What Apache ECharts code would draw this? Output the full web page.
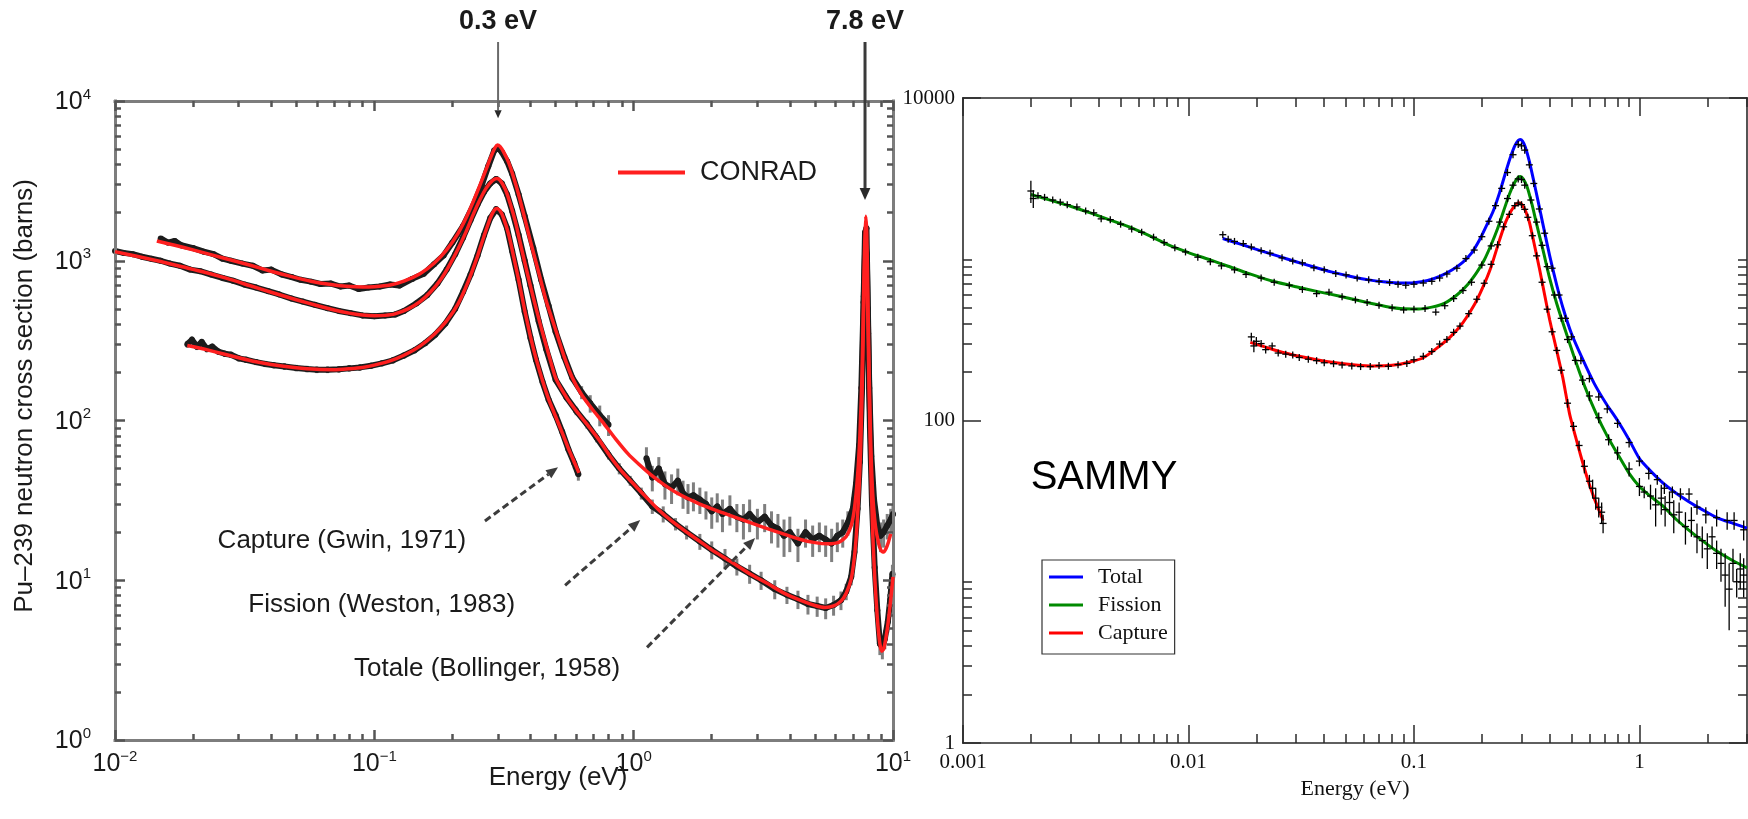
<!DOCTYPE html>
<html>
<head>
<meta charset="utf-8">
<title>Pu-239 neutron cross sections: CONRAD and SAMMY fits</title>
<script src="https://cdn.jsdelivr.net/npm/echarts@6/dist/echarts.min.js"></script>
<style>
  html, body { margin: 0; padding: 0; background: #ffffff; }
  #chart { width: 1748px; height: 819px; }
</style>
</head>
<body>
<div id="chart"></div>
<script>
// ---------------- CONRAD panel (left) ----------------
// Fitted curves: [energy (eV), cross section (barns)]
const conradTotalFit = [
  [0.0145,1330],[0.017,1250],[0.02,1170],[0.024,1080],[0.028,1010],[0.033,940],[0.04,860],[0.048,795],
  [0.057,745],[0.067,712],[0.078,692],[0.09,684],[0.1,688],[0.115,705],[0.13,745],[0.15,830],[0.17,965],
  [0.19,1170],[0.21,1480],[0.225,1830],[0.24,2320],[0.255,2950],[0.27,3750],[0.282,4500],[0.292,5100],
  [0.298,5300],[0.305,5200],[0.315,4800],[0.33,4100],[0.345,3300],[0.36,2600],[0.38,1850],[0.4,1320],
  [0.43,850],[0.46,560],[0.5,370],[0.54,250],[0.58,185],[0.63,145],[0.7,115],[0.77,95],[0.85,77],
  [0.95,62],[1.05,53],[1.16,46],[1.3,40],[1.5,34.5],[1.8,30],[2.2,26.5],[2.8,23],[3.5,20.3],[4.4,18],
  [5.0,17.2],[5.6,16.9],[6.2,17.3],[6.6,18.8],[6.9,22],[7.1,28],[7.3,45],[7.45,80],[7.6,200],[7.7,600],
  [7.78,1300],[7.85,1900],[7.92,1500],[8.0,600],[8.1,180],[8.2,75],[8.35,35],[8.55,22],[8.8,17],
  [9.0,15.3],[9.2,15],[9.4,15.8],[9.6,17.3],[9.8,19.5]
];
const conradFissionFit = [
  [0.01,1140],[0.012,1070],[0.015,990],[0.018,920],[0.022,850],[0.027,775],[0.033,700],[0.04,635],
  [0.05,570],[0.06,525],[0.07,492],[0.08,470],[0.09,457],[0.1,452],[0.11,455],[0.12,465],[0.135,500],
  [0.15,555],[0.165,640],[0.18,760],[0.195,940],[0.21,1180],[0.225,1500],[0.24,1930],[0.255,2400],
  [0.27,2850],[0.285,3170],[0.296,3270],[0.305,3200],[0.32,2800],[0.335,2250],[0.35,1750],[0.37,1180],
  [0.39,820],[0.41,590],[0.44,380],[0.47,260],[0.5,185],[0.55,140],[0.6,115],[0.66,95],[0.73,77],
  [0.81,60],[0.9,48],[1.0,40],[1.1,34],[1.25,27.5],[1.4,23.5],[1.6,20],[1.8,17.5],[2.0,15.5],[2.35,13.2],
  [2.8,11],[3.26,9.6],[3.8,8.3],[4.38,7.5],[5.0,6.95],[5.47,6.75],[5.9,6.9],[6.3,7.4],[6.6,8.3],
  [6.9,10.2],[7.1,14],[7.25,21],[7.4,38],[7.5,65],[7.6,150],[7.7,450],[7.78,1000],[7.85,1450],
  [7.92,1100],[8.0,420],[8.1,140],[8.2,55],[8.35,20],[8.5,10.5],[8.7,5.8],[8.9,4.0],[9.05,3.6],
  [9.2,3.7],[9.4,4.4],[9.6,5.6],[9.8,7.6],[10.0,10.5]
];
const conradCaptureFit = [
  [0.019,295],[0.022,280],[0.026,262],[0.03,247],[0.035,233],[0.04,224],[0.05,214],[0.06,209],
  [0.07,208],[0.08,211],[0.09,215],[0.1,222],[0.115,236],[0.13,256],[0.15,292],[0.17,345],[0.19,420],
  [0.21,535],[0.23,740],[0.25,1070],[0.265,1430],[0.28,1850],[0.29,2070],[0.297,2120],[0.305,2060],
  [0.315,1850],[0.33,1450],[0.345,1050],[0.36,760],[0.38,490],[0.4,335],[0.42,245],[0.445,178],
  [0.47,136],[0.5,106],[0.53,84],[0.56,67],[0.59,55],[0.615,47]
];

// Measured points: [energy (eV), cross section (barns), uncertainty (barns)]
const totalBollinger = [
  [0.015,1380,40],[0.016,1300,35],[0.017,1330,35],[0.018,1250,30],[0.02,1200,30],[0.022,1140,28],
  [0.024,1100,28],[0.026,1030,25],[0.028,1000,25],[0.031,960,24],[0.034,930,24],[0.037,870,22],
  [0.04,880,22],[0.044,820,20],[0.048,790,20],[0.052,760,20],[0.057,740,18],[0.062,715,18],
  [0.068,720,18],[0.074,690,18],[0.08,700,18],[0.087,665,17],[0.095,680,17],[0.105,690,17],
  [0.115,710,18],[0.125,700,18],[0.14,770,19],[0.155,830,20],[0.17,950,22],[0.185,1080,25],
  [0.2,1300,30],[0.22,1650,35],[0.24,2200,45],[0.26,3000,60],[0.275,3900,70],[0.29,4900,90],
  [0.3,5100,90],[0.31,4800,85],[0.325,4200,80],[0.34,3500,70],[0.36,2600,55],[0.38,1900,45],
  [0.41,1200,35],[0.44,760,25],[0.47,520,20],[0.5,360,15],[0.54,250,12],[0.58,185,10],[0.63,150,14],
  [0.68,128,16],[0.74,108,16],[0.8,94,14],
  [1.12,58,10],[1.18,44,8],[1.25,50,9],[1.32,40,8],[1.4,38,8],[1.48,42,8],[1.55,35,7],[1.62,33,7],
  [1.7,34,7],[1.8,32,6],[1.9,30,6],[2.0,27,6],[2.1,29,6],[2.2,26,6],[2.35,28,6],[2.5,25,5],
  [2.65,24,6],[2.8,26,6],[3.0,23,5],[3.2,25,5],[3.4,22,5],[3.6,21,5],[3.8,19,5],[4.0,20,5],
  [4.3,17,4],[4.6,20,4],[4.9,18,4],[5.2,19,4],[5.5,18,4],[5.8,17,4],[6.1,19,4],[6.4,20,4],
  [6.7,23,4],[7.0,28,5],[7.2,40,6],[7.4,70,8],[7.55,160,15],[7.7,550,40],[7.8,1500,80],
  [7.9,1600,80],[8.0,500,40],[8.1,160,15],[8.25,60,6],[8.45,32,5],[8.7,22,4],[8.95,19,4],
  [9.2,20,4],[9.5,22,4],[9.8,24,4],[10.0,26,4]
];
const fissionWeston = [
  [0.01,1150,25],[0.0108,1120,25],[0.0117,1100,25],[0.0127,1060,24],[0.0138,1030,23],[0.015,1000,22],
  [0.0163,960,22],[0.0178,930,21],[0.0195,880,20],[0.0213,860,20],[0.0235,820,19],[0.026,780,18],
  [0.0285,750,18],[0.0315,710,17],[0.035,680,16],[0.039,645,15],[0.043,615,15],[0.048,580,14],
  [0.053,555,14],[0.059,530,13],[0.066,505,13],[0.073,485,12],[0.081,470,12],[0.09,455,12],
  [0.1,450,12],[0.11,455,12],[0.12,460,12],[0.13,485,12],[0.145,540,13],[0.16,610,15],[0.175,720,17],
  [0.19,880,20],[0.205,1100,25],[0.22,1400,30],[0.235,1800,35],[0.25,2250,45],[0.265,2700,50],
  [0.28,3050,55],[0.295,3250,60],[0.31,3050,55],[0.325,2600,50],[0.34,2050,45],[0.36,1450,35],
  [0.38,1000,28],[0.4,700,22],[0.43,420,16],[0.46,280,12],[0.5,180,9],[0.55,140,8],[0.6,115,7],
  [0.66,95,6],[0.72,78,5],[0.8,61,4],[0.88,50,4],[0.97,42,3],[1.07,35,3],[1.18,29,3],[1.3,26,3],
  [1.45,22.5,2],[1.6,20,2],[1.8,17.5,2],[2.0,15.5,2],[2.25,13.7,2],[2.5,12.2,1.5],[2.8,11,1.5],
  [3.1,10,1.3],[3.5,8.8,1.2],[3.9,8.1,1],[4.3,7.6,1],[4.7,7.1,1],[5.1,6.9,1],[5.5,6.7,1],[5.9,7.0,1],
  [6.3,7.5,1],[6.6,8.5,1],[6.9,10.5,1.2],[7.1,15,2],[7.3,28,3],[7.45,55,5],[7.6,160,15],[7.72,600,40],
  [7.82,1300,70],[7.92,1100,60],[8.02,350,25],[8.15,90,8],[8.3,30,3],[8.5,12,1.5],[8.7,6.5,1],
  [8.9,4.0,0.6],[9.1,3.8,0.6],[9.3,4.3,0.6],[9.55,5.5,0.8],[9.75,7.5,1],[9.95,11,1.5]
];
const captureGwin = [
  [0.019,300,15],[0.0198,320,15],[0.0207,290,14],[0.0216,310,14],[0.0226,280,13],[0.0237,290,13],
  [0.025,270,12],[0.0265,262,12],[0.028,258,12],[0.03,245,11],[0.032,240,11],[0.035,232,10],
  [0.038,226,10],[0.041,222,10],[0.045,218,10],[0.05,213,10],[0.055,210,10],[0.06,208,10],
  [0.066,208,10],[0.073,209,10],[0.08,212,10],[0.088,215,10],[0.097,220,10],[0.107,228,10],
  [0.118,238,11],[0.13,255,11],[0.143,275,12],[0.157,305,13],[0.172,345,14],[0.188,405,16],
  [0.205,500,18],[0.22,640,22],[0.235,820,26],[0.25,1080,30],[0.265,1450,38],[0.28,1850,45],
  [0.295,2100,50],[0.31,1950,48],[0.325,1600,40],[0.34,1150,32],[0.36,760,24],[0.38,480,18],
  [0.4,330,14],[0.42,240,11],[0.445,175,9],[0.47,135,7],[0.5,108,6],[0.53,85,5],[0.56,66,4],
  [0.59,54,4],[0.612,46,4]
];

// ---------------- SAMMY panel (right) ----------------
const sammyTotalFit = [
  [0.0142,1345],[0.017,1240],[0.0205,1140],[0.025,1045],[0.03,965],[0.036,895],[0.043,835],[0.052,785],
  [0.063,745],[0.075,722],[0.088,712],[0.1,716],[0.115,738],[0.13,782],[0.148,860],[0.165,960],
  [0.18,1090],[0.195,1310],[0.21,1620],[0.225,2000],[0.24,2600],[0.255,3450],[0.268,4300],[0.28,5050],
  [0.29,5450],[0.296,5530],[0.303,5400],[0.312,4950],[0.325,4050],[0.34,3050],[0.355,2300],[0.375,1600],
  [0.4,1050],[0.43,690],[0.46,490],[0.5,345],[0.56,240],[0.63,170],[0.71,128],[0.8,100],[0.9,76],
  [1.0,58],[1.13,48],[1.27,41],[1.45,35.5],[1.65,31.5],[1.9,28],[2.2,25],[2.6,23],[3.0,21.5]
];
const sammyFissionFit = [
  [0.002,2520],[0.0025,2300],[0.003,2130],[0.0037,1930],[0.0045,1750],[0.0055,1580],[0.0067,1400],
  [0.008,1240],[0.01,1100],[0.0125,990],[0.015,905],[0.019,805],[0.0237,730],[0.03,675],[0.0375,630],
  [0.047,590],[0.06,545],[0.075,510],[0.09,493],[0.105,492],[0.12,505],[0.137,535],[0.155,600],
  [0.172,690],[0.19,830],[0.205,990],[0.22,1230],[0.235,1550],[0.25,2000],[0.265,2530],[0.278,2950],
  [0.29,3220],[0.297,3260],[0.305,3150],[0.318,2800],[0.335,2150],[0.35,1650],[0.373,1150],[0.4,760],
  [0.43,530],[0.47,360],[0.51,255],[0.57,165],[0.64,112],[0.72,80],[0.8,62],[0.9,47],[1.0,39],
  [1.13,33.5],[1.27,29.5],[1.45,24.5],[1.65,21],[1.9,18],[2.2,15.5],[2.6,13.5],[3.0,12.2]
];
const sammyCaptureFit = [
  [0.0188,305],[0.022,285],[0.026,265],[0.031,250],[0.037,238],[0.045,228],[0.055,221],[0.066,218],
  [0.08,220],[0.095,230],[0.11,245],[0.126,280],[0.145,330],[0.165,405],[0.185,520],[0.202,670],
  [0.22,900],[0.239,1300],[0.255,1700],[0.27,2000],[0.283,2180],[0.292,2240],[0.3,2200],[0.312,2000],
  [0.325,1700],[0.34,1280],[0.36,880],[0.38,600],[0.4,420],[0.43,270],[0.457,185],[0.49,110],
  [0.52,80],[0.55,60],[0.59,43],[0.63,33],[0.66,28],[0.69,24]
];

// Measured points with uncertainties: [energy, sigma, uncertainty]
const sammyTotalData = [
  [0.0142,1420,45],[0.015,1330,30],[0.016,1290,30],[0.0175,1250,25],[0.019,1190,25],[0.021,1130,25],
  [0.023,1090,20],[0.026,1020,20],[0.029,975,20],[0.032,950,18],[0.036,885,18],[0.04,860,18],
  [0.045,815,16],[0.05,800,16],[0.056,765,15],[0.063,745,15],[0.07,728,15],[0.078,718,14],
  [0.085,700,14],[0.092,690,14],[0.1,700,14],[0.11,712,14],[0.12,730,15],[0.13,765,15],[0.14,810,16],
  [0.155,880,18],[0.17,1010,20],[0.185,1140,22],[0.2,1380,28],[0.215,1720,35],[0.23,2150,40],
  [0.245,2750,50],[0.26,3450,60],[0.275,4450,80],[0.29,5150,90],[0.3,5050,90],[0.31,4750,80],
  [0.325,3850,70],[0.34,2950,60],[0.36,2050,50],[0.38,1450,40],[0.41,880,30],[0.44,600,25],
  [0.47,430,20],[0.5,330,15],[0.55,235,12],[0.6,182,10],[0.66,140,8],[0.72,118,7],[0.8,96,6],
  [0.9,73,5],[1.0,56,4],[1.1,47,4],[1.2,43,3],[1.29,38,3],[1.4,36,3],[1.52,35,3],[1.66,35,3],
  [1.8,29,3],[1.97,26,3],[2.2,25,3],[2.45,24,3],[2.63,24,3],[2.9,21,3]
];
const sammyFissionData = [
  [0.002,2650,420],[0.00205,2380,300],[0.00215,2480,120],[0.0023,2420,100],[0.0025,2330,90],
  [0.0027,2260,80],[0.0029,2180,80],[0.0032,2110,70],[0.0035,1990,70],[0.0038,1940,60],
  [0.0041,1780,60],[0.0045,1760,55],[0.005,1650,50],[0.0056,1540,45],[0.0062,1470,40],[0.007,1370,40],
  [0.0078,1270,35],[0.0087,1180,35],[0.0097,1110,30],[0.011,1030,30],[0.0125,965,25],[0.014,910,25],
  [0.016,860,22],[0.018,805,22],[0.021,765,20],[0.024,720,18],[0.028,690,18],[0.032,650,16],
  [0.037,612,16],[0.042,625,20],[0.048,585,16],[0.055,560,15],[0.062,540,15],[0.07,518,14],
  [0.08,500,14],[0.09,485,13],[0.1,490,13],[0.112,495,13],[0.125,470,20],[0.137,515,15],
  [0.15,570,16],[0.165,640,18],[0.18,720,20],[0.2,920,25],[0.22,1210,30],[0.24,1700,40],
  [0.26,2380,50],[0.275,2880,60],[0.29,3150,60],[0.3,3120,60],[0.31,2880,60],[0.33,2330,50],
  [0.35,1700,40],[0.37,1220,35],[0.39,900,30],[0.42,600,25],[0.45,430,20],[0.48,318,16],
  [0.52,236,14],[0.56,178,12],[0.6,142,10],[0.66,104,8],[0.73,76,6],[0.8,63,6],[0.9,50,5],
  [1.0,39,5],[1.05,36,3],[1.12,34,6],[1.18,30,8],[1.25,33,7],[1.3,28,6],[1.36,31,5],[1.42,26,6],
  [1.5,27,4],[1.6,22,5],[1.7,24,5],[1.8,19,4],[1.9,18,4],[2.0,16,4],[2.1,19,3],[2.2,15,3],
  [2.3,13,3],[2.4,11,4],[2.5,9,4],[2.6,13,3],[2.7,10,2],[2.8,12,3],[2.9,11,3]
];
const sammyCaptureData = [
  [0.019,330,20],[0.0195,290,25],[0.02,310,20],[0.021,300,15],[0.022,275,15],[0.0235,290,12],
  [0.025,262,12],[0.027,258,10],[0.029,255,10],[0.031,246,10],[0.034,240,9],[0.037,235,9],
  [0.04,228,8],[0.044,225,8],[0.048,221,8],[0.053,218,8],[0.058,216,8],[0.064,216,8],[0.07,219,8],
  [0.077,217,8],[0.085,222,8],[0.093,226,8],[0.1,238,9],[0.11,250,9],[0.12,268,10],[0.13,298,10],
  [0.14,318,11],[0.15,352,12],[0.16,385,13],[0.175,460,15],[0.19,565,18],[0.205,710,22],
  [0.22,930,28],[0.235,1230,35],[0.25,1590,40],[0.265,1900,45],[0.28,2150,50],[0.29,2230,50],
  [0.3,2180,50],[0.31,2040,45],[0.32,1820,40],[0.335,1400,35],[0.35,1050,30],[0.37,720,25],
  [0.39,490,18],[0.41,355,14],[0.43,272,12],[0.45,205,10],[0.48,128,8],[0.51,92,6],[0.54,70,5],
  [0.57,52,5],[0.6,42,4],[0.62,38,5],[0.64,33,5],[0.66,29,4],[0.68,27,4],[0.69,23,3]
];

// ---------------- axis ticks (values on the log scale) ----------------
const conradEnergyTicks = [0.01, 0.1, 1, 10];
const conradSigmaTicks = [1, 10, 100, 1000, 10000];
const sammyEnergyTicks = [0.001, 0.01, 0.1, 1];
const sammyEnergyMax = 3;
const sammySigmaTicks = [1, 100, 10000];

// ---------------- annotations (data coordinates) ----------------
const resonanceMarks = [
  { text: '0.3 eV', energy: 0.3, tip: 7800, head: 8, color: '#6a6a6a', width: 2 },
  { text: '7.8 eV', energy: 7.8, tip: 2400, head: 12, color: '#3a3a3a', width: 3 }
];
const curveNotes = [
  { text: 'Capture (Gwin, 1971)', textAt: [0.226, 17.6], from: [0.267, 23.5], to: [0.511, 51] },
  { text: 'Fission (Weston, 1983)', textAt: [0.349, 7.0], from: [0.544, 9.3], to: [1.06, 23.8] },
  { text: 'Totale (Bollinger, 1958)', textAt: [0.886, 2.78], from: [1.126, 3.8], to: [2.94, 18.4] }
];

// ---------------- helpers ----------------
const lg = Math.log10;
const SANS = 'Liberation Sans, Arial, Helvetica, sans-serif';
const SERIF = 'Liberation Serif, Times New Roman, serif';
const INK = '#1a1a1a';

const toLog = arr => arr.map(p => [lg(p[0]), lg(p[1])]);
// split a measured set into line segments where the energy gap is large
function toLogSegments(arr) {
  const out = [];
  arr.forEach((p, i) => {
    if (i > 0 && p[0] / arr[i - 1][0] > 1.25) out.push([lg(Math.sqrt(p[0] * arr[i - 1][0])), '-']);
    out.push([lg(p[0]), lg(p[1])]);
  });
  return out;
}
const toErr = arr => arr.map(p => [lg(p[0]), lg(Math.max(p[1] - p[2], 1e-3)), lg(p[1] + p[2]), lg(p[1])]);
const decadesOf = ticks => ticks.map(v => Math.round(lg(v)));
function minorTicks(decades, ks, maxV) {
  const out = [];
  decades.forEach(d => ks.forEach(k => { const v = d + lg(k); if (v <= maxV + 1e-9) out.push(v); }));
  return out;
}
const supText = v => { const n = Math.round(v); return n < 0 ? '\u2212' + (-n) : String(n); };
const plainText = v => String(Number(Math.pow(10, v).toPrecision(1)));

// one side of a frame: a major axis (line, long ticks, labels) and a minor axis (short ticks)
function frameSide(gridIndex, position, range, majors, minors, look, label) {
  const base = { type: 'value', gridIndex, position, min: range[0], max: range[1], silent: true,
                 splitLine: { show: false }, splitArea: { show: false }, z: 4 };
  const tickStyle = { color: look.tick, width: look.tickWidth };
  const major = Object.assign({}, base, {
    axisLine: { show: true, onZero: false, lineStyle: { color: look.line, width: look.lineWidth, cap: 'square' } },
    axisTick: { show: true, inside: true, length: look.major, customValues: majors, lineStyle: tickStyle },
    axisLabel: label ? Object.assign({ show: true, customValues: majors }, label) : { show: false }
  }, look.name || {});
  const minor = Object.assign({}, base, {
    axisLine: { show: false, onZero: false },
    axisTick: { show: true, inside: true, length: look.minor, customValues: minors, lineStyle: tickStyle },
    axisLabel: { show: false }
  });
  return [major, minor];
}

// ---------------- axes ----------------
const cX = [lg(conradEnergyTicks[0]), lg(conradEnergyTicks[conradEnergyTicks.length - 1])];
const cY = [lg(conradSigmaTicks[0]), lg(conradSigmaTicks[conradSigmaTicks.length - 1])];
const sX = [lg(sammyEnergyTicks[0]), lg(sammyEnergyMax)];
const sY = [lg(sammySigmaTicks[0]), lg(sammySigmaTicks[sammySigmaTicks.length - 1])];

const cXMaj = decadesOf(conradEnergyTicks);
const cYMaj = decadesOf(conradSigmaTicks);
const cXMin = minorTicks(cXMaj.slice(0, -1), [2, 3, 4, 5, 6, 7, 8, 9], cX[1]);
const cYMin = minorTicks(cYMaj.slice(0, -1), [2, 3, 4, 5, 6, 7, 8, 9], cY[1]);
const sXMaj = decadesOf(sammyEnergyTicks);
const sYMaj = decadesOf(sammySigmaTicks);
const sXMin = minorTicks(sXMaj, [2, 3, 4, 5, 6, 7, 8, 9], sX[1]);
const sYMin = minorTicks(sYMaj.slice(0, -1), [2, 3, 4, 5, 6, 7, 8, 9, 10], sY[1]);

const conradLook = { line: '#7d7d7d', lineWidth: 3, tick: '#555555', tickWidth: 2.5, major: 10, minor: 6 };
const sammyLook = { line: '#2a2a2a', lineWidth: 1.6, tick: '#2a2a2a', tickWidth: 1.5, major: 18, minor: 9 };

const conradPowerLabel = margin => ({
  margin, formatter: v => '{b|10}{s|' + supText(v) + '}',
  rich: {
    b: { fontFamily: SANS, fontSize: 25, color: INK, lineHeight: 28, verticalAlign: 'bottom' },
    s: { fontFamily: SANS, fontSize: 15, color: INK, lineHeight: 28, verticalAlign: 'top' }
  }
});
const sammyPlainLabel = margin => ({
  margin, formatter: plainText, fontFamily: SERIF, fontSize: 21, color: '#111111'
});

const xAxes = [].concat(
  frameSide(0, 'bottom', cX, cXMaj, cXMin, conradLook, conradPowerLabel(9)),
  frameSide(0, 'top', cX, cXMaj, cXMin, conradLook, null),
  frameSide(1, 'bottom', sX, sXMaj, sXMin, Object.assign({}, sammyLook, {
    name: { name: 'Energy (eV)', nameLocation: 'middle', nameGap: 35,
            nameTextStyle: { fontFamily: SERIF, fontSize: 22, color: '#111111' } } }), sammyPlainLabel(9)),
  frameSide(1, 'top', sX, sXMaj, sXMin, sammyLook, null)
);
const yAxes = [].concat(
  frameSide(0, 'left', cY, cYMaj, cYMin, conradLook, conradPowerLabel(24)),
  frameSide(0, 'right', cY, cYMaj, cYMin, conradLook, null),
  frameSide(1, 'left', sY, sYMaj, sYMin, sammyLook, sammyPlainLabel(8)),
  frameSide(1, 'right', sY, sYMaj, sYMin, sammyLook, null)
);

// ---------------- series ----------------
function errorBars(name, data, xi, yi, color, width) {
  return {
    type: 'custom', name, xAxisIndex: xi, yAxisIndex: yi, silent: true, clip: true, z: 2,
    data: toErr(data), encode: { x: 0, y: [1, 2] },
    renderItem: (params, api) => {
      const lo = api.coord([api.value(0), api.value(1)]);
      const hi = api.coord([api.value(0), api.value(2)]);
      return { type: 'line', shape: { x1: lo[0], y1: lo[1], x2: hi[0], y2: hi[1] },
               style: { stroke: color, lineWidth: width } };
    }
  };
}
function crosses(name, data, xi, yi) {
  return {
    type: 'custom', name, xAxisIndex: xi, yAxisIndex: yi, silent: true, clip: true, z: 6,
    data: toErr(data), encode: { x: 0, y: [1, 2, 3] },
    renderItem: (params, api) => {
      const c = api.coord([api.value(0), api.value(3)]);
      const lo = api.coord([api.value(0), api.value(1)]);
      const hi = api.coord([api.value(0), api.value(2)]);
      const top = Math.min(hi[1], c[1] - 3.5), bottom = Math.max(lo[1], c[1] + 3.5);
      const st = { stroke: '#000000', lineWidth: 1.3 };
      return { type: 'group', children: [
        { type: 'line', shape: { x1: c[0], y1: top, x2: c[0], y2: bottom }, style: st },
        { type: 'line', shape: { x1: c[0] - 3.5, y1: c[1], x2: c[0] + 3.5, y2: c[1] }, style: st }
      ] };
    }
  };
}
function measuredBand(name, data) {
  return {
    type: 'line', name, xAxisIndex: 0, yAxisIndex: 0, silent: true, z: 3,
    data: toLogSegments(data), connectNulls: false,
    symbol: 'circle', symbolSize: 6, showSymbol: true,
    itemStyle: { color: '#1c1c1c' },
    lineStyle: { color: '#1c1c1c', width: 6, join: 'round' }
  };
}
function fitLine(name, data, xi, yi, color, width, z) {
  return {
    type: 'line', name, xAxisIndex: xi, yAxisIndex: yi, silent: true, z,
    data: toLog(data), smooth: 0.2, showSymbol: false, symbol: 'none',
    itemStyle: { color }, lineStyle: { color, width, join: 'round' }
  };
}

const RED = '#ff1f1f';
const series = [
  errorBars('Totale (Bollinger, 1958) errors', totalBollinger, 0, 0, '#7f7f7f', 3),
  errorBars('Fission (Weston, 1983) errors', fissionWeston, 0, 0, '#7f7f7f', 3),
  errorBars('Capture (Gwin, 1971) errors', captureGwin, 0, 0, '#7f7f7f', 3),
  measuredBand('Totale (Bollinger, 1958)', totalBollinger),
  measuredBand('Fission (Weston, 1983)', fissionWeston),
  measuredBand('Capture (Gwin, 1971)', captureGwin),
  fitLine('CONRAD', conradTotalFit, 0, 0, RED, 3.5, 5),
  fitLine('CONRAD', conradFissionFit, 0, 0, RED, 3.5, 5),
  fitLine('CONRAD', conradCaptureFit, 0, 0, RED, 3.5, 5),

  fitLine('Total', sammyTotalFit, 4, 4, '#0000ff', 3, 5),
  fitLine('Fission', sammyFissionFit, 4, 4, '#008a00', 3, 5),
  fitLine('Capture', sammyCaptureFit, 4, 4, '#ff0000', 3, 5),
  crosses('Total data', sammyTotalData, 4, 4),
  crosses('Fission data', sammyFissionData, 4, 4),
  crosses('Capture data', sammyCaptureData, 4, 4)
];

const chart = echarts.init(document.getElementById('chart'), null, { renderer: 'canvas' });
chart.setOption({
  animation: false,
  backgroundColor: '#ffffff',
  textStyle: { fontFamily: SANS },
  grid: [
    { left: 115, top: 101, width: 778, height: 639, containLabel: false, outerBoundsMode: 'none' },
    { left: 963, top: 98, width: 784, height: 645, containLabel: false, outerBoundsMode: 'none' }
  ],
  xAxis: xAxes,
  yAxis: yAxes,
  legend: [
    {
      data: ['CONRAD'], left: 618, top: 159, orient: 'horizontal', padding: 0,
      icon: 'rect', itemWidth: 67, itemHeight: 4, selectedMode: false,
      formatter: n => '{a|' + n + '}',
      textStyle: { rich: { a: { fontFamily: SANS, fontSize: 27, color: INK, padding: [0, 0, 0, 10], lineHeight: 32 } } }
    },
    {
      data: ['Total', 'Fission', 'Capture'], left: 1042, top: 560, orient: 'vertical',
      padding: [6, 7, 10, 7], itemGap: 6, icon: 'rect', itemWidth: 34, itemHeight: 3,
      selectedMode: false, borderColor: '#333333', borderWidth: 1.2, backgroundColor: '#ffffff',
      formatter: n => '{a|' + n + '}',
      textStyle: { rich: { a: { fontFamily: SERIF, fontSize: 22, color: '#111111', padding: [0, 0, 0, 10], lineHeight: 23 } } }
    }
  ],
  series
});

// ---------------- annotation layer ----------------
function arrow(p0, p1, o) {
  const dx = p1[0] - p0[0], dy = p1[1] - p0[1], len = Math.hypot(dx, dy);
  const ux = dx / len, uy = dy / len;
  const bx = p1[0] - ux * o.head, by = p1[1] - uy * o.head;
  return [
    { type: 'line', silent: true, z: 100,
      shape: { x1: p0[0], y1: p0[1], x2: bx, y2: by },
      style: { stroke: o.color, lineWidth: o.width, lineDash: o.dash || null } },
    { type: 'polygon', silent: true, z: 100,
      shape: { points: [[p1[0], p1[1]], [bx - uy * o.headW, by + ux * o.headW], [bx + uy * o.headW, by - ux * o.headW]] },
      style: { fill: o.headColor || o.color } }
  ];
}
const px = (e, s) => chart.convertToPixel({ gridIndex: 0 }, [lg(e), lg(s)]);
const noteStyle = (text, size, extra) => Object.assign({
  text, fontFamily: SANS, fontSize: size, fill: INK, align: 'center', verticalAlign: 'middle'
}, extra || {});

const graphics = [];
resonanceMarks.forEach(m => {
  const tip = px(m.energy, m.tip);
  graphics.push({ type: 'text', silent: true, z: 100, x: tip[0], y: 22,
    style: noteStyle(m.text, 27, { fontWeight: 'bold' }) });
  arrow([tip[0], 42], tip, { color: m.color, width: m.width, head: m.head, headW: m.head * 0.45, headColor: '#2a2a2a' })
    .forEach(g => graphics.push(g));
});
curveNotes.forEach(n => {
  const t = px(n.textAt[0], n.textAt[1]);
  graphics.push({ type: 'text', silent: true, z: 100, x: t[0], y: t[1],
    style: noteStyle(n.text, 26, { align: 'right' }) });
  arrow(px(n.from[0], n.from[1]), px(n.to[0], n.to[1]), { color: '#3c3c3c', width: 3, dash: [7, 4], head: 12, headW: 5 })
    .forEach(g => graphics.push(g));
});
// axis titles of the CONRAD panel and the SAMMY tag
graphics.push(
  { type: 'text', silent: true, z: 100, x: 558, y: 778, style: noteStyle('Energy (eV)', 26) },
  { type: 'text', silent: true, z: 100, x: 25, y: 396, rotation: Math.PI / 2,
    style: noteStyle('Pu\u2013239 neutron cross section (barns)', 26) },
  { type: 'text', silent: true, z: 100, x: 1104, y: 478,
    style: { text: 'SAMMY', fontFamily: SANS, fontSize: 40, fill: '#000000', align: 'center', verticalAlign: 'middle' } }
);
chart.setOption({ graphic: graphics });
</script>
</body>
</html>
